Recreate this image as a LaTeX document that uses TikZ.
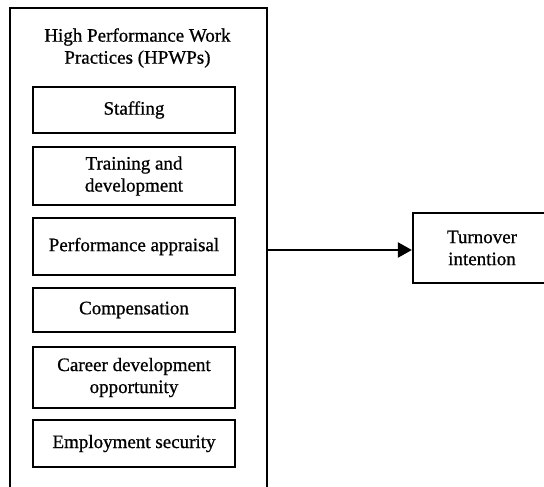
\documentclass[tikz,border=0pt]{standalone}
\usepackage{fontspec}
\setmainfont{Liberation Serif}[FakeBold=0.8]
\usetikzlibrary{arrows.meta}
\begin{document}
\begin{tikzpicture}[x=1pt,y=-1pt,
  every node/.style={font=\fontsize{19}{22}\selectfont, align=center, inner sep=0pt},
  box/.style={draw, line width=2.2pt, rectangle, minimum width=202pt},
  frame/.style={draw, line width=2.2pt, rectangle},
  link/.style={line width=2.2pt, -{Triangle[length=14pt,width=15pt]}}]
\useasboundingbox (0,0) rectangle (544,487);
\clip (0,0) rectangle (544,487);
\node[frame, minimum width=257pt, minimum height=540pt] (outer) at (138.5,278) {};
\node (title) at (137.5,48) {High Performance Work\\Practices (HPWPs)};
\node[box, minimum height=46pt] (staff) at (134,110) {Staffing};
\node[box, minimum height=58pt] (train) at (134,176) {Training and\\development};
\node[box, minimum height=57pt] (perf) at (134,246.5) {Performance appraisal};
\node[box, minimum height=44pt] (comp) at (134,310) {Compensation};
\node[box, minimum height=61pt] (career) at (134,377.5) {Career development\\opportunity};
\node[box, minimum height=47pt] (empl) at (134,443.5) {Employment security};
\node[frame, minimum width=138pt, minimum height=70pt] (turn) at (482,248) {Turnover\\intention};
\coordinate (start) at (outer.east |- 0,250);
\draw[link] (start) -- (turn.west |- start);
\end{tikzpicture}
\end{document}
